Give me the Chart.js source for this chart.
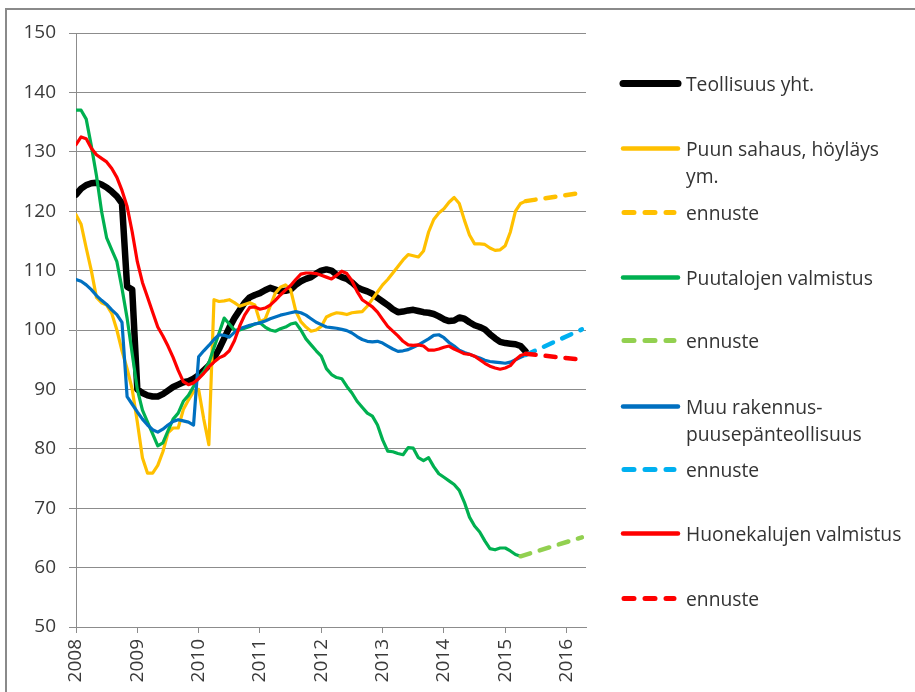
<!DOCTYPE html>
<html><head><meta charset="utf-8">
<script src="https://cdn.jsdelivr.net/npm/chart.js@4.4.1/dist/chart.umd.min.js"></script>
<style>
html,body{margin:0;padding:0;background:#fff;}
#wrap{position:relative;width:915px;height:692px;overflow:hidden;background:#fff;}
#frame{position:absolute;left:5px;top:8px;width:1000px;height:1000px;border-left:2px solid #8a8a8a;border-top:2px solid #8a8a8a;}
#c{position:absolute;left:0;top:0;}
.li{position:absolute;left:617px;height:27px;font-family:"Open Sans","Liberation Sans",sans-serif;font-size:19.3px;line-height:27px;color:#333;white-space:nowrap;}
.li svg{position:absolute;left:0;top:0;}
.li span{position:absolute;left:69px;top:0;}
</style></head>
<body><div id="wrap"><div id="frame"></div><canvas id="c" width="915" height="692"></canvas><div id="legend"></div></div>
<script>
// ---- data (monthly, starting January 2008) ----
const yearLabels = ['2008','2009','2010','2011','2012','2013','2014','2015','2016'];

const teollisuus = [122.8,123.8,124.4,124.7,124.8,124.5,124.0,123.3,122.5,121.3,
 107.3,106.8,90.0,89.4,89.0,88.8,88.8,89.2,89.8,90.4,
 90.8,91.2,91.4,91.8,92.4,93.2,94.0,95.3,96.8,98.6,
 100.4,102.0,103.3,104.6,105.5,105.9,106.2,106.7,107.1,106.8,
 106.5,106.6,106.8,107.6,108.2,108.6,108.9,109.5,110.0,110.2,
 110.0,109.3,108.9,108.6,108.0,107.2,106.8,106.5,106.1,105.4,
 104.8,104.2,103.5,103.0,103.1,103.3,103.4,103.2,103.0,102.9,
 102.7,102.3,101.8,101.5,101.6,102.1,101.9,101.3,100.8,100.5,
 100.1,99.3,98.6,98.0,97.8,97.7,97.6,97.3,96.4];

const sahaus = [119.4,117.8,113.8,110.0,105.5,104.6,104.2,102.8,100.0,96.5,
 93.5,90.0,84.5,78.5,75.9,75.9,77.2,79.5,82.7,83.5,
 83.5,86.6,88.2,89.6,90.0,85.0,80.7,105.1,104.8,104.9,
 105.1,104.6,104.0,104.3,104.6,104.2,101.4,101.8,104.0,106.2,
 107.2,107.6,106.8,103.2,101.4,100.5,99.8,100.0,100.6,102.2,
 102.6,102.9,102.8,102.6,102.9,103.0,103.1,104.0,105.2,106.4,
 107.6,108.5,109.6,110.7,111.8,112.7,112.5,112.3,113.3,116.5,
 118.6,119.7,120.4,121.5,122.3,121.3,118.5,116.0,114.5,114.5,
 114.4,113.8,113.4,113.5,114.2,116.5,120.0,121.3,121.7];

const puutalot = [137.0,137.0,135.5,131.0,126.0,120.0,115.5,113.5,111.5,107.0,
 102.0,96.0,90.0,86.5,84.5,82.5,80.5,81.0,83.0,85.0,
 86.0,88.0,89.0,90.5,92.0,93.0,94.5,97.0,99.5,102.0,
 101.0,100.0,100.0,100.3,100.6,101.0,101.2,100.5,100.0,99.8,
 100.2,100.5,101.0,101.2,100.0,98.5,97.5,96.5,95.6,93.5,
 92.5,92.0,91.8,90.5,89.4,88.0,87.0,86.0,85.5,84.0,
 81.5,79.6,79.5,79.2,79.0,80.2,80.1,78.5,78.0,78.5,
 77.0,75.8,75.2,74.6,74.0,73.0,71.0,68.5,67.0,66.0,
 64.5,63.2,63.0,63.3,63.3,62.8,62.2,61.9];

const muuRakennus = [108.5,108.2,107.6,106.8,105.8,105.0,104.3,103.4,102.6,101.3,
 88.8,87.5,86.2,85.0,84.0,83.2,82.8,83.3,84.0,84.6,
 84.9,84.7,84.5,84.0,95.5,96.5,97.4,98.4,99.2,99.1,
 98.8,99.6,100.2,100.5,100.8,101.0,101.2,101.5,101.9,102.2,
 102.5,102.7,102.9,103.1,102.9,102.5,101.9,101.3,100.9,100.5,
 100.4,100.3,100.1,99.9,99.5,98.9,98.4,98.1,98.0,98.1,
 97.8,97.3,96.8,96.4,96.5,96.7,97.1,97.5,98.0,98.5,
 99.1,99.2,98.7,97.9,97.3,96.6,96.2,95.9,95.6,95.3,
 94.9,94.7,94.6,94.5,94.4,94.6,95.0,95.4,95.8];

const huonekalut = [131.2,132.5,132.2,130.6,129.5,128.9,128.3,127.2,125.7,123.5,
 120.8,116.5,111.5,108.0,105.5,103.0,100.5,99.0,97.3,95.4,
 93.2,91.3,90.8,91.1,91.8,92.7,93.8,94.6,95.3,95.7,
 96.5,98.2,100.6,102.5,103.8,103.9,103.5,103.7,104.2,105.0,
 105.9,106.7,107.5,108.5,109.4,109.6,109.6,109.5,109.2,108.9,
 108.6,109.2,109.9,109.5,108.3,106.5,105.1,104.5,103.9,103.0,
 101.8,100.6,99.8,99.0,98.1,97.5,97.4,97.5,97.3,96.6,
 96.6,96.8,97.1,97.3,96.8,96.4,96.0,95.9,95.6,95.0,
 94.4,93.9,93.6,93.4,93.6,94.0,95.0,95.7,96.0];

// forecasts (ennuste): month index from Jan 2008 and values
const ennusteMonths = [88, 99];
const puutalotEnnusteMonths = [87, 99];
const sahausEnnuste = [121.7, 123.1];
const puutalotEnnuste = [61.9, 65.1];
const muuRakennusEnnuste = [95.8, 100.1];
const huonekalutEnnuste = [96.0, 95.0];

// ---- helpers ----
const series = (arr) => arr.map((v, i) => ({x: i, y: v}));
const fc = (months, vals) => months.map((m, i) => ({x: m, y: vals[i]}));

const C = {black:'#000000', yellow:'#FFC000', green:'#00B050', lgreen:'#92D050', blue:'#0070C0', lblue:'#00B0F0', red:'#FF0000'};
const solid = (data, color, w) => ({data, borderColor: color, borderWidth: w, pointRadius: 0, tension: 0, borderJoinStyle: 'round', borderCapStyle: 'round', fill: false});
const dashed = (data, color) => ({data, borderColor: color, borderWidth: 4.5, pointRadius: 0, tension: 0, borderDash: [10, 10], borderCapStyle: 'round', fill: false});

const datasets = [
  solid(series(huonekalut), C.red, 3.2),
  dashed(fc(ennusteMonths, huonekalutEnnuste), C.red),
  dashed(fc(ennusteMonths, muuRakennusEnnuste), C.lblue),
  solid(series(muuRakennus), C.blue, 3.2),
  dashed(fc(puutalotEnnusteMonths, puutalotEnnuste), C.lgreen),
  solid(series(puutalot), C.green, 3.2),
  dashed(fc(ennusteMonths, sahausEnnuste), C.yellow),
  solid(series(sahaus), C.yellow, 3.2),
  solid(series(teollisuus), C.black, 6.5)
];

const tickFont = {family: '"Open Sans", "Liberation Sans", sans-serif', size: 19};
const gridCol = '#8c8c8c';

new Chart(document.getElementById('c'), {
  type: 'line',
  data: {datasets},
  options: {
    responsive: false, animation: false,
    layout: {padding: {left: 0, top: 33, right: 329, bottom: 0}},
    plugins: {legend: {display: false}, tooltip: {enabled: false}},
    scales: {
      x: {
        type: 'linear', min: 0, max: 99.8,
        afterBuildTicks: (s) => { s.ticks = yearLabels.map((l, i) => ({value: i * 12})); },
        afterFit: (s) => { s.height = 65; },
        ticks: {minRotation: 90, maxRotation: 90, autoSkip: false, font: tickFont, color: '#3a3a3a', padding: 6,
          callback: (v) => yearLabels[Math.round(v / 12)]},
        grid: {drawOnChartArea: false, drawTicks: true, tickLength: 6, color: gridCol},
        border: {display: true, color: gridCol, width: 1}
      },
      y: {
        min: 50, max: 150,
        afterFit: (s) => { s.width = 76; },
        ticks: {stepSize: 10, font: tickFont, color: '#3a3a3a', padding: 13},
        grid: {color: gridCol, lineWidth: 1, tickLength: 7, drawTicks: true},
        border: {display: true, color: gridCol, width: 1}
      }
    }
  }
});

// ---- legend (HTML) ----
const legendItems = [
  {text: 'Teollisuus yht.', color: C.black, w: 7, dash: false, y: 83},
  {text: 'Puun sahaus, höyläys<br>ym.', color: C.yellow, w: 4.5, dash: false, y: 148},
  {text: 'ennuste', color: C.yellow, w: 5, dash: true, y: 212},
  {text: 'Puutalojen valmistus', color: C.green, w: 4.5, dash: false, y: 277},
  {text: 'ennuste', color: C.lgreen, w: 5, dash: true, y: 340},
  {text: 'Muu rakennus-<br>puusepänteollisuus', color: C.blue, w: 4.5, dash: false, y: 406},
  {text: 'ennuste', color: C.lblue, w: 5, dash: true, y: 469},
  {text: 'Huonekalujen valmistus', color: C.red, w: 4.5, dash: false, y: 533},
  {text: 'ennuste', color: C.red, w: 5, dash: true, y: 598}
];
const lg = document.getElementById('legend');
legendItems.forEach(it => {
  const d = document.createElement('div');
  d.className = 'li';
  d.style.top = (it.y - 13.5) + 'px';
  const line = it.dash
    ? `<line x1="7" y1="13.5" x2="57" y2="13.5" stroke="${it.color}" stroke-width="${it.w}" stroke-linecap="round" stroke-dasharray="10 11"/>`
    : `<line x1="6" y1="13.5" x2="61" y2="13.5" stroke="${it.color}" stroke-width="${it.w}" stroke-linecap="round"/>`;
  d.innerHTML = `<svg width="68" height="27">${line}</svg><span>${it.text}</span>`;
  lg.appendChild(d);
});
</script>
</body></html>
